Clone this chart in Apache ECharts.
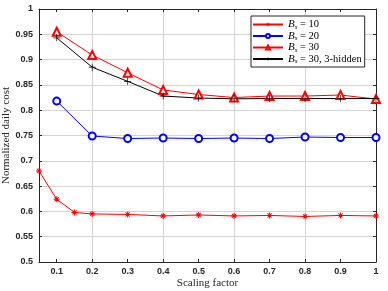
<!DOCTYPE html>
<html><head><meta charset="utf-8">
<script src="https://cdn.jsdelivr.net/npm/echarts@6/dist/echarts.min.js"></script>
<style>html,body{margin:0;padding:0;background:#fff}#c{width:388px;height:291px}</style>
</head><body><div id="c"></div>
<script>
var xTicks = [0.1,0.2,0.3,0.4,0.5,0.6,0.7,0.8,0.9,1];
var x10 = [0.05,0.1,0.15,0.2,0.3,0.4,0.5,0.6,0.7,0.8,0.9,1];
var bs10 = [0.680,0.624,0.598,0.595,0.594,0.591,0.593,0.591,0.592,0.590,0.592,0.591];
var xOthers = [0.1,0.2,0.3,0.4,0.5,0.6,0.7,0.8,0.9,1];
var bs20 = [0.818,0.749,0.744,0.745,0.744,0.745,0.744,0.747,0.746,0.746];
var bs30 = [0.955,0.909,0.874,0.840,0.831,0.825,0.828,0.828,0.830,0.822];
var bs30h = [0.943,0.885,0.857,0.828,0.824,0.8225,0.823,0.823,0.823,0.823];
var names = ['Bs10','Bs20','Bs30','Bs30h'];
var legendLabels = {
  Bs10: '{b|B}{s|s}{t| = 10}',
  Bs20: '{b|B}{s|s}{t| = 20}',
  Bs30: '{b|B}{s|s}{t| = 30}',
  Bs30h: '{b|B}{s|s}{t| = 30, 3-hidden}'
};
function pairs(xs, ys){ return xs.map(function(x,i){return [x, ys[i]];}); }
var axisColor = '#262626';
var gridColor = '#d4d4d4';
var star = 'path://M-0.8,-5H0.8V5H-0.8Z M-5,-0.8H5V0.8H-5Z M-4,-3L-3,-4L4,3L3,4Z M3,-4L4,-3L-3,4L-4,3Z';
var plus = 'path://M-0.5,-5H0.5V5H-0.5Z M-5,-0.5H5V0.5H-5Z';
var chart = echarts.init(document.getElementById('c'));
var common = {
  type:'value', axisLine:{show:true, lineStyle:{color:axisColor, width:1}}
};
chart.setOption({
  animation:false,
  backgroundColor:'#fff',
  grid:{left:39, right:12, top:9, bottom:29, containLabel:false, outerBoundsMode:'none'},
  legend:{
    z:20,
    data:names, orient:'vertical', left:251, top:16, itemWidth:30, itemHeight:5, itemGap:0,
    borderColor:axisColor, borderWidth:1, backgroundColor:'#fff', padding:[3,3,2,1], borderRadius:0,
    formatter:function(n){return legendLabels[n];},
    textStyle:{color:'#000', fontFamily:'Liberation Serif', fontSize:10,
      rich:{
        b:{fontFamily:'Liberation Serif', fontStyle:'italic', fontSize:11, color:'#000', lineHeight:12},
        s:{fontFamily:'Liberation Serif', fontStyle:'italic', fontSize:7, color:'#000', verticalAlign:'bottom', lineHeight:12, padding:[4,0,0,0]},
        t:{fontFamily:'Liberation Serif', fontSize:10.5, color:'#000', lineHeight:12}
      }}
  },
  xAxis:[
    Object.assign({}, common, {min:0.05, max:1, interval:0.05, position:'bottom', z:3,
      name:'Scaling factor', nameLocation:'middle', nameGap:16, nameMoveOverlap:false,
      nameTextStyle:{fontFamily:'Liberation Serif', fontSize:11, color:axisColor},
      axisTick:{show:true, inside:true, length:3, customValues:xTicks, lineStyle:{color:axisColor}},
      axisLabel:{customValues:xTicks, color:axisColor, fontFamily:'Liberation Sans', fontWeight:'bold', fontSize:9, margin:5,
        formatter:function(v){return String(Math.round(v*10)/10);}},
      splitLine:{show:true, lineStyle:{color:['rgba(255,255,255,0)', gridColor], width:1}}
    }),
    Object.assign({}, common, {min:0.05, max:1, position:'top', z:3,
      axisTick:{show:true, inside:true, length:3, customValues:xTicks, lineStyle:{color:axisColor}},
      axisLabel:{show:false}, splitLine:{show:false}})
  ],
  yAxis:[
    Object.assign({}, common, {min:0.5, max:1, interval:0.05, position:'left', z:3,
      name:'Normalized daily cost', nameLocation:'middle', nameGap:27, nameMoveOverlap:false,
      nameTextStyle:{fontFamily:'Liberation Serif', fontSize:11, color:axisColor},
      axisTick:{show:true, inside:true, length:3, lineStyle:{color:axisColor}},
      axisLabel:{color:axisColor, fontFamily:'Liberation Sans', fontWeight:'bold', fontSize:9, margin:6},
      splitLine:{show:true, lineStyle:{color:gridColor, width:1}}
    }),
    Object.assign({}, common, {min:0.5, max:1, interval:0.05, position:'right', z:3,
      axisTick:{show:true, inside:true, length:3, lineStyle:{color:axisColor}},
      axisLabel:{show:false}, splitLine:{show:false}})
  ],
  series:[
    {name:'Bs10', type:'line', data:pairs(x10,bs10), symbol:star, symbolSize:6, z:8,
      lineStyle:{color:'#ff0000', width:1}, itemStyle:{color:'#ff0000'}},
    {name:'Bs20', type:'line', data:pairs(xOthers,bs20), symbol:'emptyCircle', symbolSize:7, z:8,
      lineStyle:{color:'#0000ff', width:1}, itemStyle:{color:'#0000ff', borderWidth:1.2}},
    {name:'Bs30', type:'line', data:pairs(xOthers,bs30), symbol:'emptyTriangle', symbolSize:8, z:8,
      lineStyle:{color:'#ff0000', width:1}, itemStyle:{color:'#ff0000', borderWidth:1}},
    {name:'Bs30h', type:'line', data:pairs(xOthers,bs30h), symbol:plus, symbolSize:7, z:8,
      lineStyle:{color:'#000', width:1}, itemStyle:{color:'#000'}}
  ]
});
</script></body></html>
